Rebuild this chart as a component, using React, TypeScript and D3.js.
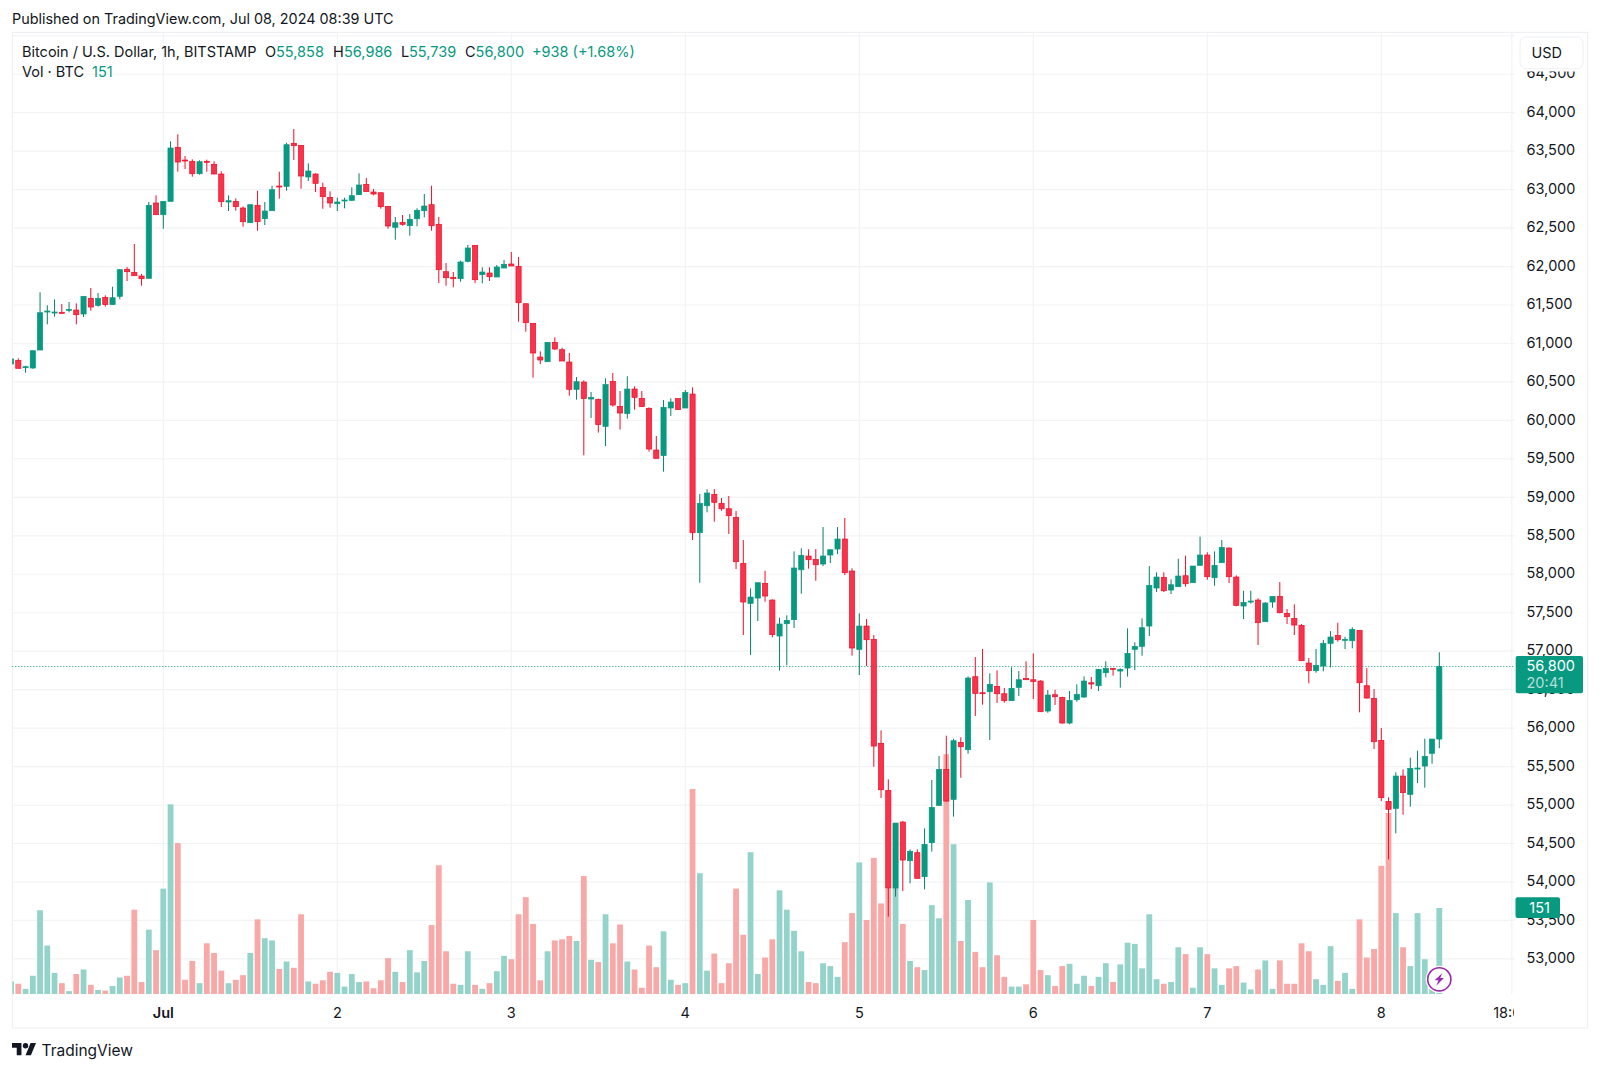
import React from 'react';
import * as d3 from 'd3';

const firstHour = -21; // hours relative to Jul 1 00:00
const opens = [
60733,60781,60690,60681,60915,61409,61400,61405,61431,61435,61383,61587,61496,61600,61505,61613,61964,61925,61877,61847,62826,
62674,62848,63550,63385,63368,63207,63368,63329,63203,62839,62848,62761,62570,62796,62622,62726,63047,63043,63602,63576,63164,63203,63030,62900,
62817,62856,62861,62934,63069,62969,62960,62783,62510,62575,62531,62622,62726,62804,62549,61933,61860,61842,62068,62276,61894,61916,61864,61981,
62033,62003,61517,61262,60824,60763,61015,60919,60759,60404,60499,60278,60274,59923,60508,60183,60088,60408,60287,60157,59615,59542,60161,60283,
60161,60343,58540,58891,59039,58922,58852,58740,58142,57622,57691,57882,57665,57197,57357,57410,58059,58237,58194,58133,58250,58328,58458,58042,
57024,57327,57154,55802,55191,53921,54779,54277,54381,54069,54511,54996,55464,55074,55815,55719,56668,56460,56473,56543,56447,56356,56530,56647,
56629,56612,56222,56434,56400,56066,56369,56404,56590,56551,56720,56777,56742,56781,57024,57063,57327,57821,57960,57795,57838,57981,57890,58116,
58250,57955,58150,58341,57964,57587,57643,57665,57383,57639,57713,57492,57427,57336,56846,56746,56807,57102,57206,57141,57136,57271,56551,56387,
55841,55048,54957,55377,55139,55468,55507,55672,55858,
];
const highs = [
60815,60807,60711,60906,61665,61496,61574,61513,61539,61522,61613,61721,61656,61626,61738,61968,61994,62293,61903,62839,62926,
62848,63628,63719,63437,63394,63381,63389,63368,63238,62926,62887,62783,62804,62986,62839,63051,63233,63610,63788,63576,63342,63212,63090,62978,
62895,62895,63030,63212,63151,63008,62960,62783,62644,62670,62683,62757,62943,63051,62644,62046,61929,62076,62280,62276,61990,61990,62020,62085,
62189,62124,61517,61262,60898,61015,61080,60945,60876,60564,60521,60369,60283,60547,60616,60382,60573,60443,60382,60170,59797,60265,60287,60283,
60395,60430,59043,59104,59108,58991,59017,58822,58445,57817,57890,58046,57674,57435,57466,58298,58337,58324,58328,58614,58319,58614,58731,58077,
57492,57418,57210,55971,55334,54766,54792,54424,54424,54697,55325,55637,55901,55862,55880,56673,56924,57028,56712,56751,56521,56790,56742,56868,
56972,56621,56495,56499,56408,56482,56569,56673,56664,56764,56868,56777,56777,57297,57115,57427,58107,58025,58025,57934,58202,58241,58107,58488,
58285,58298,58445,58350,57986,57786,57786,57687,57639,57713,57899,57548,57609,57353,56911,57028,57145,57262,57370,57188,57310,57271,56781,56508,
56001,55100,55425,55464,55616,55707,55863,55858,56986,
];
const lows = [
60725,60677,60620,60672,60915,61249,61348,61387,61405,61249,61344,61426,61478,61478,61505,61574,61812,61881,61751,61842,62674,
62492,62848,63233,63268,63168,63194,63233,63199,62774,62722,62726,62518,62570,62466,62540,62726,62882,62986,63385,63012,63112,62969,62752,62765,
62722,62757,62852,62934,62973,62926,62752,62492,62349,62531,62401,62523,62640,62466,61786,61751,61730,61803,62055,61786,61782,61812,61864,61981,
62007,61283,61153,60556,60733,60763,60915,60772,60321,60270,59546,60031,59841,59667,60179,59880,60023,60140,60179,59594,59507,59334,60057,60140,
60161,58445,57890,58805,58683,58826,58523,58068,57210,56950,57392,57643,57180,56747,56816,57301,57747,58073,57916,58107,58146,58263,57990,56942,
56690,56807,55498,55091,53549,53809,53882,53982,54047,53904,54394,54996,55043,54849,55355,55667,56157,56304,55845,56326,56330,56356,56417,56629,
56378,56213,56200,56300,56057,56049,56343,56395,56508,56482,56660,56682,56526,56669,56755,56941,57197,57769,57769,57743,57838,57838,57890,58116,
57929,57851,58150,57886,57583,57418,57617,57080,57383,57565,57492,57353,57210,56876,56582,56720,56738,56790,57123,57028,57037,56205,56382,55728,
55052,54294,54632,54875,54979,55286,55226,55537,55739,
];
const closes = [
60798,60677,60698,60906,61400,61422,61409,61392,61444,61374,61613,61474,61587,61505,61595,61959,61933,61881,61842,62796,62674,
62848,63541,63359,63372,63207,63363,63355,63203,62843,62856,62778,62583,62804,62583,62722,62999,63034,63584,63571,63177,63242,63082,62908,62826,
62839,62865,62921,63060,62973,62943,62778,62527,62570,62549,62614,62731,62787,62531,61959,61855,61842,62059,62241,61829,61929,61868,61994,62029,
62007,61530,61270,60876,60785,61015,60928,60772,60404,60503,60283,60300,59945,60465,60200,60096,60408,60300,60179,59628,59507,60170,60239,60140,
60365,58540,58922,59056,58935,58852,58761,58163,57639,57704,57890,57717,57215,57353,57401,58081,58246,58189,58124,58237,58319,58458,58020,57041,
57327,57149,55767,55199,53921,54766,54285,54398,54047,54489,54970,55464,55052,55836,55758,56651,56452,56447,56569,56447,56356,56517,56629,56629,
56608,56213,56430,56408,56066,56361,56439,56612,56573,56764,56777,56768,56764,56972,57063,57305,57856,57964,57786,57864,57977,57877,58107,58250,
57968,58116,58350,57968,57596,57635,57652,57370,57626,57713,57500,57448,57340,56876,56746,56816,57102,57184,57149,57154,57284,56590,56391,55823,
55096,54944,55377,55161,55477,55481,55633,55858,56800,
];
const volumes = [
22,18,9,32,147,85,37,19,5,35,43,16,7,6,14,29,32,148,21,113,77,
185,333,265,25,58,19,89,72,41,19,25,33,72,131,98,94,44,57,46,140,22,18,24,39,
37,13,35,21,22,10,24,63,39,21,77,38,58,121,226,75,18,16,75,16,9,19,40,67,
61,140,170,123,24,75,94,96,102,93,207,60,56,140,89,122,57,43,11,85,47,110,25,16,
19,360,212,41,71,19,54,185,104,249,35,64,96,182,148,111,75,21,19,54,49,30,91,142,
231,130,239,159,185,186,123,58,47,42,156,133,421,263,93,165,74,47,196,68,30,13,13,17,
130,42,33,14,49,53,18,32,14,30,54,21,52,90,88,45,140,26,18,21,82,70,11,82,
70,45,16,45,49,20,8,43,59,9,59,18,18,89,75,26,16,84,23,37,9,131,64,79,
225,318,142,82,49,142,61,10,151,
];
const priceTicks = [64500,64000,63500,63000,62500,62000,61500,61000,60500,60000,59500,59000,58500,58000,57500,57000,56500,56000,55500,55000,54500,54000,53500,53000];
const gridPrices = [65000, ...priceTicks];
const dayLabels = ['Jul','2','3','4','5','6','7','8','18:00'];
const dayHours = [0,24,48,72,96,120,144,168,186];
const legendOHLC = [
  {k:'O',v:'55,858',kx:265,vx:276},
  {k:'H',v:'56,986',kx:333,vx:344},
  {k:'L',v:'55,739',kx:401,vx:409},
  {k:'C',v:'56,800',kx:465,vx:475.6},
];
const lastPrice = 56800;

const FONT = 'Inter, "Liberation Sans", sans-serif';
const GREEN = '#089981';
const INK = '#131722';

export default function App() {
  const x = d3.scaleLinear().domain([0,24]).range([163.3,337.3]);
  const y = d3.scaleLinear().domain([53000,64000]).range([958.9,112.7]);
  const v = d3.scaleLinear().domain([0,151]).range([994,908]);
  const left=12.3, top=32.3, bottom=1028, base=994;
  const gridColor='#f2f3f5', frame='#ebedf0';
  const bars = opens.map((o,i)=>({h:firstHour+i,o,hi:highs[i],lo:lows[i],c:closes[i],vol:volumes[i],up:closes[i]>=o}));
  return (
    <svg width={1600} height={1071} viewBox="0 0 1600 1071" style={{position:'absolute',left:0,top:0,background:'#fff',fontFamily:FONT}}>
      <defs>
        <clipPath id="timeClip"><rect x={12} y={996} width={1502} height={30}/></clipPath>
      </defs>
      <rect width={1600} height={1071} fill="#fff"/>
      <text x={12} y={23.5} fontSize={14.4} fill={INK}>Published on TradingView.com, Jul 08, 2024 08:39 UTC</text>

      <rect x={left} y={top} width={1587.7-left} height={bottom-top} fill="none" stroke={frame}/>
      {gridPrices.map(p=>(
        <line key={p} x1={left} x2={1515} y1={y(p)} y2={y(p)} stroke={gridColor} strokeWidth={1.2}/>
      ))}
      {dayHours.map(h=>(
        <line key={h} x1={x(h)} x2={x(h)} y1={top} y2={base} stroke={gridColor} strokeWidth={1.2}/>
      ))}

      {bars.map(b=>{
        const cx=x(b.h);
        const bx=Math.max(cx-2.9,left);
        return <rect key={b.h} x={bx} y={v(b.vol)} width={cx+2.9-bx} height={base-v(b.vol)} fill={b.up?'#93d3ca':'#f8a8a6'}/>;
      })}

      <line x1={left} x2={1515} y1={y(lastPrice)} y2={y(lastPrice)} stroke={GREEN} strokeDasharray="1 2"/>

      {bars.map(b=>{
        const cx=x(b.h);
        const t=y(Math.max(b.o,b.c)), bt=y(Math.min(b.o,b.c));
        const bx=Math.max(cx-2.6,left+0.3);
        const w=cx+2.6-bx;
        return (
          <g key={b.h}>
            {cx>=left && <line x1={cx} x2={cx} y1={y(b.hi)} y2={y(b.lo)} stroke={b.up?'#067f6b':'#f20d28'} strokeWidth={1}/>}
            <rect x={bx} y={t} width={w} height={Math.max(bt-t,1)} fill={b.up?GREEN:'#f8334b'} stroke={b.up?GREEN:'#f20d28'} strokeWidth={0.7}/>
          </g>
        );
      })}

      <g fontSize={14.5} fill={INK}>
        <text x={22} y={56.5}>Bitcoin / U.S. Dollar, 1h, BITSTAMP</text>
        {legendOHLC.map(d=>(
          <g key={d.k}>
            <text x={d.kx} y={56.5}>{d.k}</text>
            <text x={d.vx} y={56.5} fill={GREEN}>{d.v}</text>
          </g>
        ))}
        <text x={532} y={56.5} fill={GREEN}>+938 (+1.68%)</text>
        <text x={22} y={77}>Vol · BTC</text>
        <text x={92} y={77} fill={GREEN}>151</text>
      </g>

      <g fontSize={14.5} fill={INK} textAnchor="start">
        {priceTicks.map(p=>(
          <text key={p} x={1526.5} y={y(p)+4.2}>{d3.format(',')(p)}</text>
        ))}
      </g>
      <g fontSize={14.5} fill={INK} textAnchor="middle" clipPath="url(#timeClip)">
        {dayLabels.map((d,i)=>(
          <text key={d} x={x(dayHours[i])} y={1018} fontWeight={d==='Jul'?600:400}>{d}</text>
        ))}
      </g>

      <rect x={1519} y={64} width={66} height={7.5} fill="#fff"/>
      <rect x={1520} y={37} width={63} height={31.7} rx={6} fill="#fff" stroke="#eef0f2"/>
      <text x={1531.5} y={58} fontSize={14.5} fill={INK}>USD</text>

      <rect x={1515.7} y={656} width={67.3} height={37.3} rx={2} fill={GREEN}/>
      <text x={1526.5} y={671} fontSize={14.5} fill="#fff">56,800</text>
      <text x={1526.5} y={687.8} fontSize={14.5} fill="#fff" fillOpacity={0.7}>20:41</text>

      <rect x={1515.5} y={897.3} width={44.5} height={20.7} rx={2} fill={GREEN}/>
      <text x={1539.6} y={913} fontSize={14.5} fill="#fff" textAnchor="middle">151</text>

      <circle cx={x(176)} cy={979.3} r={13.6} fill="#fff"/>
      <circle cx={x(176)} cy={979.3} r={11.6} fill="#fff" stroke="#9c27b0" strokeWidth={1.6}/>
      <path transform={`translate(${x(176)},979.3)`} d="M3 -6.4 L-4.6 1 L-0.9 1 L-3 6.4 L4.6 -1.2 L0.9 -1.2 Z" fill="#9c27b0"/>

      <g transform="translate(12,1040.3) scale(0.676)" fill="#131722">
        <path d="M14 22H7V11H0V4h14v18zM28 22h-8l7.5-18h8L28 22z"/>
        <circle cx={20} cy={8} r={4}/>
      </g>
      <text x={41.5} y={1055.5} fontSize={15.5} fill={INK}>TradingView</text>
    </svg>
  );
}
